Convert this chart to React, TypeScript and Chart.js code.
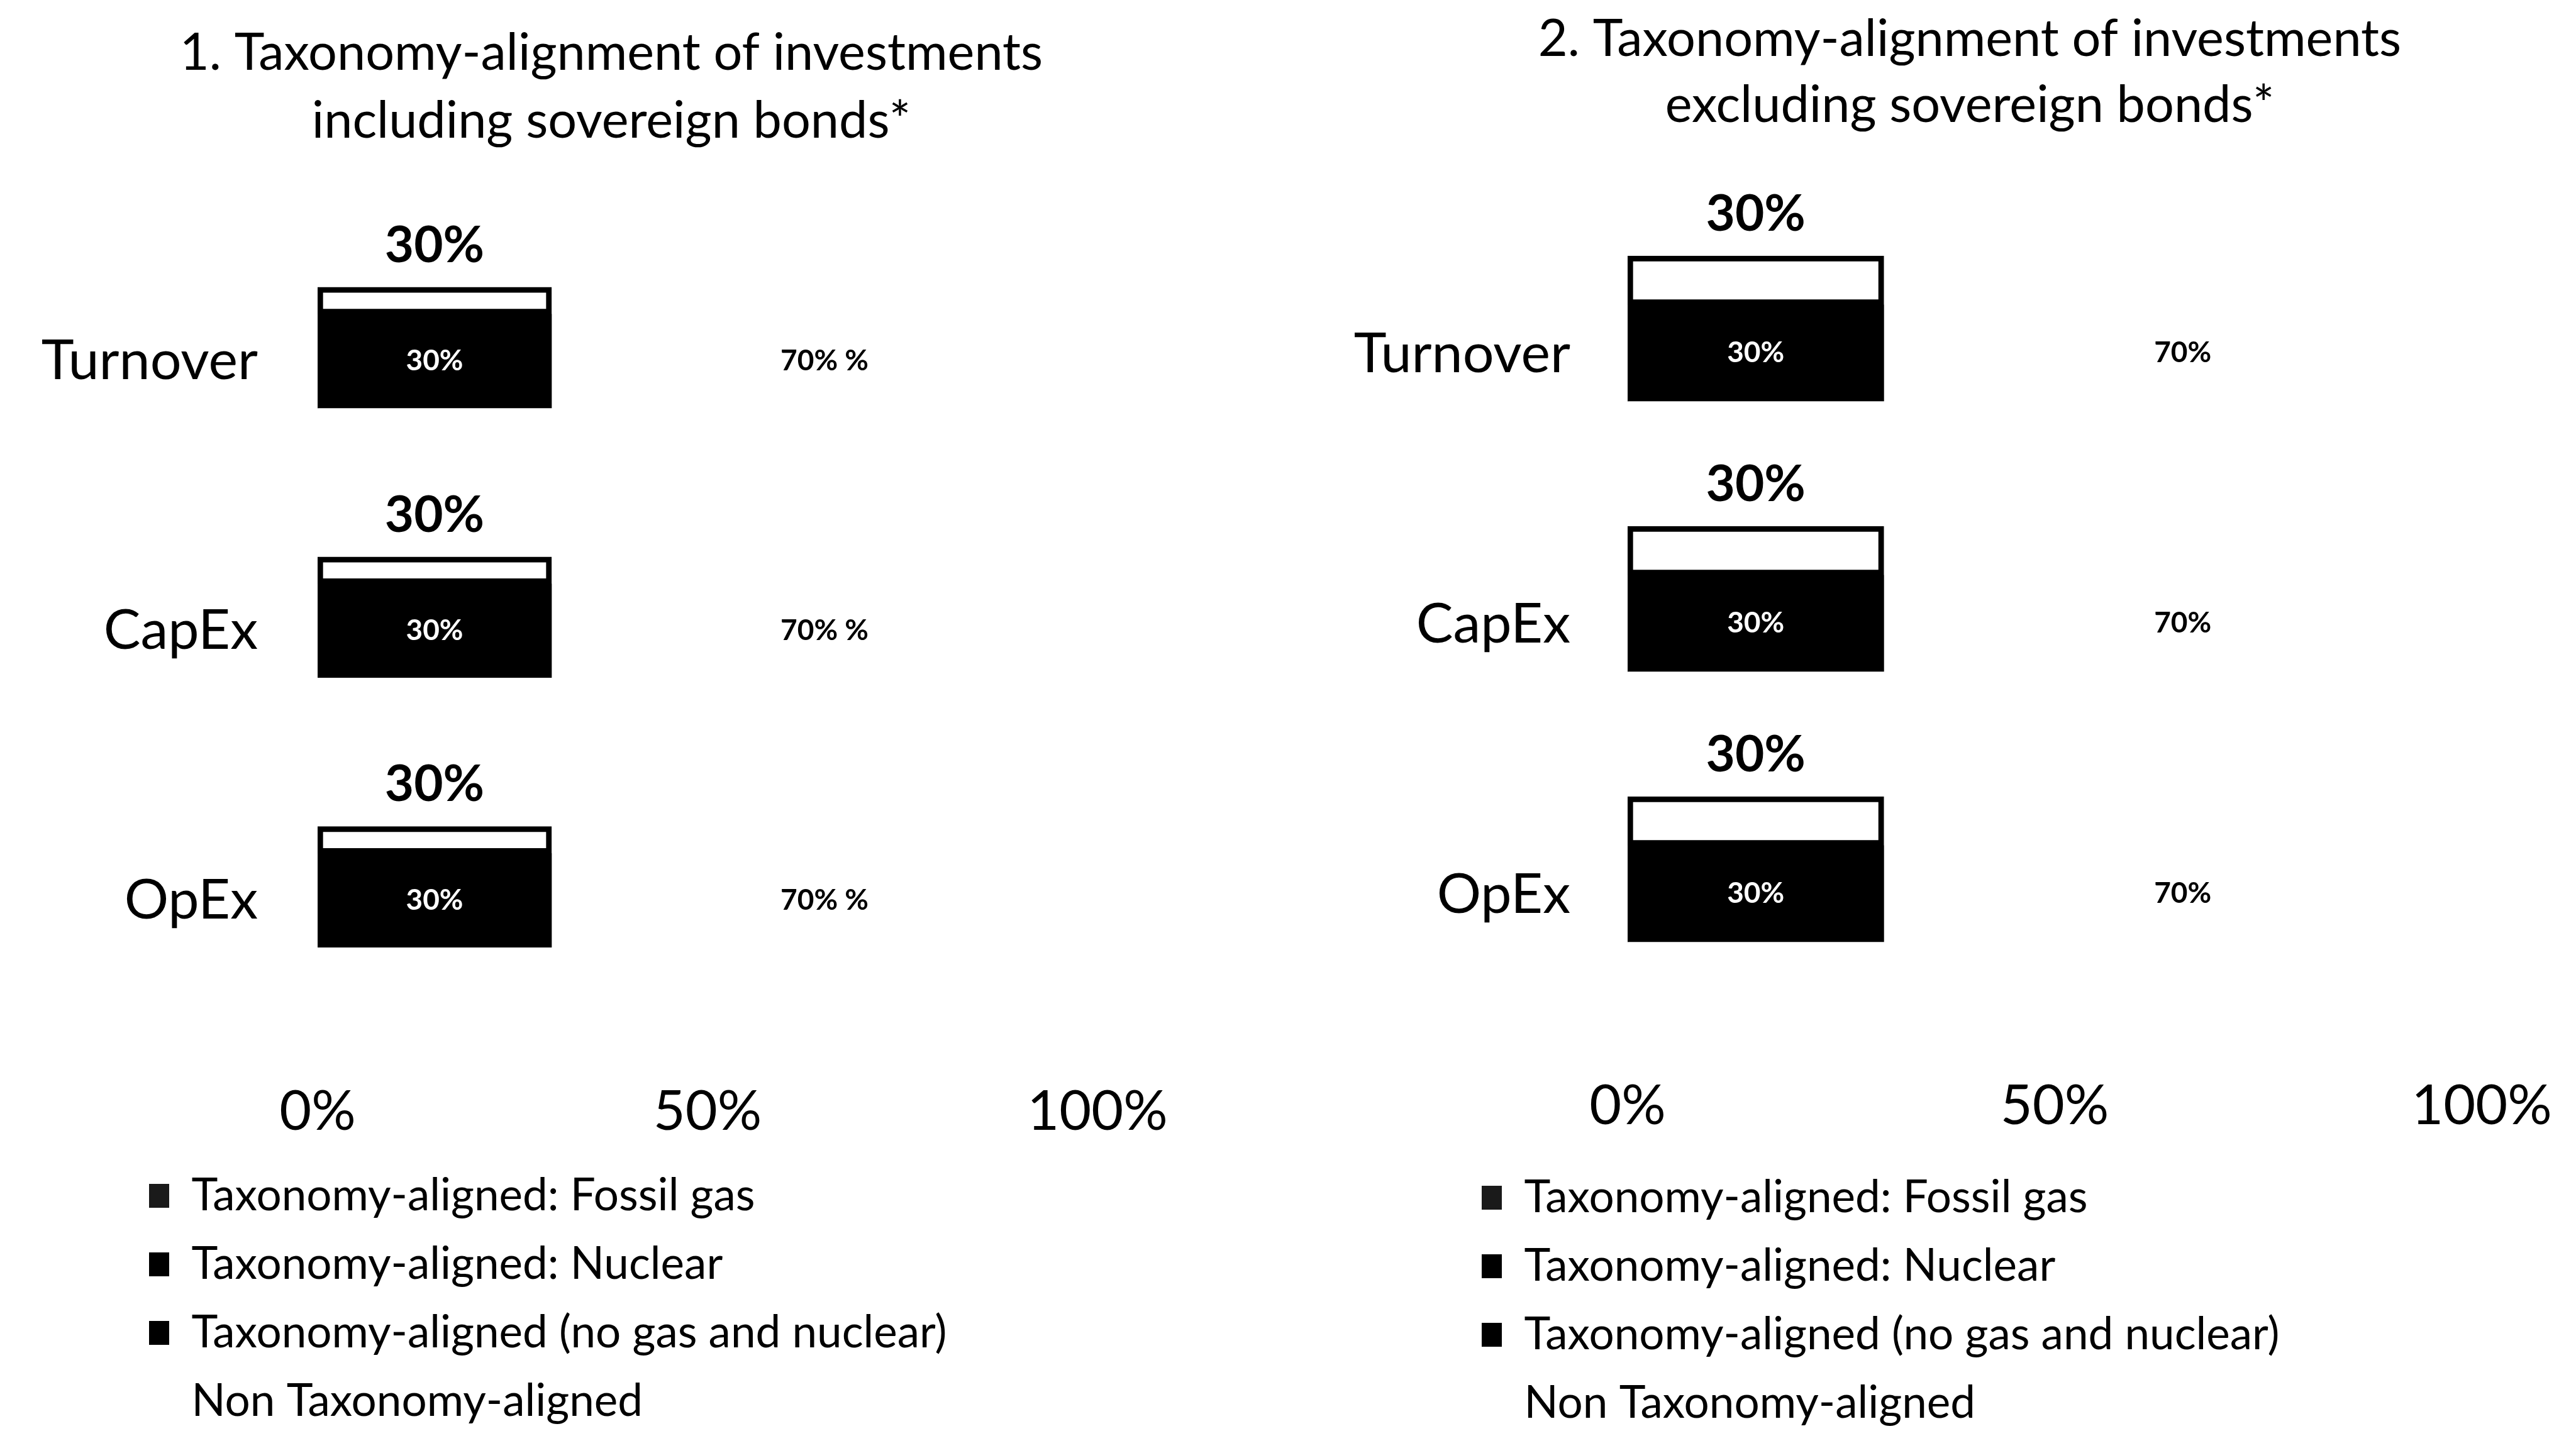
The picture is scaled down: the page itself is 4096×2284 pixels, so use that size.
import React, { useEffect, useRef } from 'react';
import { Chart, registerables } from 'chart.js';

Chart.register(...registerables);
Chart.defaults.font.family = 'Lato, "Open Sans", sans-serif';
Chart.defaults.color = '#000';

// ---------- data ----------
const categories = ['Turnover', 'CapEx', 'OpEx'];
const xTickValues = [0, 50, 100];
const xTickLabels = ['0%', '50%', '100%'];
const legendLabels = [
  'Taxonomy-aligned: Fossil gas',
  'Taxonomy-aligned: Nuclear',
  'Taxonomy-aligned (no gas and nuclear)',
  'Non Taxonomy-aligned',
];

// Chart 1: including sovereign bonds
const title1 = ['1. Taxonomy-alignment of investments', 'including sovereign bonds*'];
const inclTotalAligned = [30, 30, 30];
const inclFossilGas = [0, 0, 0];
const inclNuclear = [0, 0, 0];
const inclAlignedNoGasNuclear = [30, 30, 30];
const inclNonAligned = [70, 70, 70];
const inclNonAlignedSuffix = ' %';

// Chart 2: excluding sovereign bonds
const title2 = ['2. Taxonomy-alignment of investments', 'excluding sovereign bonds*'];
const exclTotalAligned = [30, 30, 30];
const exclFossilGas = [0, 0, 0];
const exclNuclear = [0, 0, 0];
const exclAlignedNoGasNuclear = [30, 30, 30];
const exclNonAligned = [70, 70, 70];
const exclNonAlignedSuffix = '';

// ---------- layout (pixels) ----------
const layoutLeft = {
  left: 0, width: 1895, height: 2284,
  padL: 199, padR: 150, padB: 9.5,
  yWidth: 306, xHeight: 256.5,
  titleSize: 81, titlePadTop: 30.2, titlePadBottom: 38.2, titleLH: 1.34,
  labelOffset: 75, yTickPad: 95, xLabelLH: 394 / 88,
  whiteThick: 43, blackThick: 149, topLabelGap: 66,
};
const layoutRight = {
  left: 2000, width: 2076, height: 2284,
  padL: 318, padR: 130, padB: 6.5,
  yWidth: 270, xHeight: 271.5,
  titleSize: 81, titlePadTop: 10.2, titlePadBottom: 49.8, titleLH: 1.296,
  labelOffset: 79, yTickPad: 91, xLabelLH: 400 / 88,
  whiteThick: 78, blackThick: 153, topLabelGap: 66,
};

const barLabelsPlugin = {
  id: 'barLabels',
  afterDatasetsDraw(chart: any, _args: any, opts: any) {
    const ctx = chart.ctx;
    const draw = (dsIndex: number, kind: string) => {
      const meta = chart.getDatasetMeta(dsIndex);
      const ds = chart.data.datasets[dsIndex];
      meta.data.forEach((el: any, i: number) => {
        const v = ds.data[i];
        if (!v) return;
        const p = el.getProps(['x', 'y', 'base', 'height'], true);
        const cx = (p.x + p.base) / 2;
        ctx.save();
        ctx.textAlign = 'center';
        ctx.textBaseline = 'middle';
        if (kind === 'top') {
          ctx.font = 'bold 80px Lato, sans-serif';
          ctx.fillStyle = '#000';
          ctx.fillText(v + '%', cx, p.y - p.height / 2 - opts.topGap);
        } else if (kind === 'inside') {
          ctx.font = 'bold 46px Lato, sans-serif';
          ctx.fillStyle = '#fff';
          ctx.fillText(v + '%', cx, p.y);
        } else {
          ctx.font = 'bold 46px Lato, sans-serif';
          ctx.fillStyle = '#000';
          ctx.fillText(v + '%' + opts.suffix, cx, p.y);
        }
        ctx.restore();
      });
    };
    draw(0, 'top');
    draw(3, 'inside');
    draw(4, 'non');
  },
};

// lets the category labels extend left of the (narrowed) y-axis box without being clipped
const unclipYLabelsPlugin = {
  id: 'unclipYLabels',
  afterLayout(chart: any) {
    const y = chart.scales.y;
    if (y) y.left = 0;
  },
};

type PanelProps = {
  title: string[];
  total: number[];
  fossil: number[];
  nuclear: number[];
  aligned: number[];
  non: number[];
  suffix: string;
  lay: typeof layoutLeft;
};

function TaxonomyChart({ title, total, fossil, nuclear, aligned, non, suffix, lay }: PanelProps) {
  const ref = useRef<HTMLCanvasElement>(null);
  useEffect(() => {
    if (!ref.current) return;
    const chart = new Chart(ref.current, {
      type: 'bar',
      data: {
        labels: categories,
        datasets: [
          {
            label: 'Taxonomy-aligned',
            data: total,
            stack: 'outline',
            backgroundColor: '#ffffff',
            borderColor: '#000000',
            borderWidth: 9,
            borderSkipped: false,
            barThickness: lay.whiteThick,
          },
          {
            label: legendLabels[0],
            data: fossil,
            stack: 'main',
            backgroundColor: '#1a1a1a',
            borderWidth: 0,
            barThickness: lay.blackThick,
          },
          {
            label: legendLabels[1],
            data: nuclear,
            stack: 'main',
            backgroundColor: '#000000',
            borderWidth: 0,
            barThickness: lay.blackThick,
          },
          {
            label: legendLabels[2],
            data: aligned,
            stack: 'main',
            backgroundColor: '#000000',
            borderWidth: 0,
            barThickness: lay.blackThick,
          },
          {
            label: legendLabels[3],
            data: non,
            stack: 'main',
            backgroundColor: '#ffffff',
            borderWidth: 0,
            barThickness: lay.blackThick,
          },
        ],
      },
      options: {
        indexAxis: 'y',
        responsive: false,
        maintainAspectRatio: false,
        animation: false,
        events: [],
        layout: { padding: { left: lay.padL, right: lay.padR, top: 0, bottom: lay.padB } },
        scales: {
          x: {
            stacked: true,
            min: 0,
            max: 100,
            afterBuildTicks: (s: any) => {
              s.ticks = xTickValues.map((v) => ({ value: v }));
            },
            ticks: {
              callback: (_v: any, i: number) => xTickLabels[i],
              padding: 0,
              font: { size: 88, lineHeight: lay.xLabelLH },
              color: '#000',
              maxRotation: 0,
              autoSkip: false,
            },
            grid: { display: false, drawTicks: false },
            border: { display: false },
            afterFit: (s: any) => {
              s.height = lay.xHeight;
            },
          },
          y: {
            ticks: {
              padding: lay.yTickPad,
              labelOffset: lay.labelOffset,
              font: { size: 88 },
              color: '#000',
            },
            grid: { display: false, drawTicks: false },
            border: { display: false },
            afterFit: (s: any) => {
              s.width = lay.yWidth;
            },
          },
        },
        plugins: {
          title: {
            display: true,
            text: title,
            color: '#000',
            font: { size: lay.titleSize, weight: 'normal', lineHeight: lay.titleLH },
            padding: { top: lay.titlePadTop, bottom: lay.titlePadBottom },
          },
          legend: {
            display: true,
            position: 'bottom',
            align: 'start',
            labels: {
              filter: (item: any) => item.datasetIndex !== 0,
              boxWidth: 32,
              boxHeight: 38,
              padding: 38,
              color: '#000',
              font: { size: 71 },
            },
          },
          tooltip: { enabled: false },
          barLabels: { topGap: lay.topLabelGap, suffix },
        } as any,
      },
      plugins: [barLabelsPlugin, unclipYLabelsPlugin],
    } as any);
    return () => chart.destroy();
  }, []);
  return (
    <canvas
      ref={ref}
      width={lay.width}
      height={lay.height}
      style={{ position: 'absolute', left: lay.left, top: 0, width: lay.width, height: lay.height }}
    />
  );
}

export default function App() {
  return (
    <div
      style={{
        position: 'absolute',
        left: 0,
        top: 0,
        width: 4096,
        height: 2284,
        background: '#ffffff',
        overflow: 'hidden',
      }}
    >
      <TaxonomyChart
        title={title1}
        total={inclTotalAligned}
        fossil={inclFossilGas}
        nuclear={inclNuclear}
        aligned={inclAlignedNoGasNuclear}
        non={inclNonAligned}
        suffix={inclNonAlignedSuffix}
        lay={layoutLeft}
      />
      <TaxonomyChart
        title={title2}
        total={exclTotalAligned}
        fossil={exclFossilGas}
        nuclear={exclNuclear}
        aligned={exclAlignedNoGasNuclear}
        non={exclNonAligned}
        suffix={exclNonAlignedSuffix}
        lay={layoutRight}
      />
    </div>
  );
}
